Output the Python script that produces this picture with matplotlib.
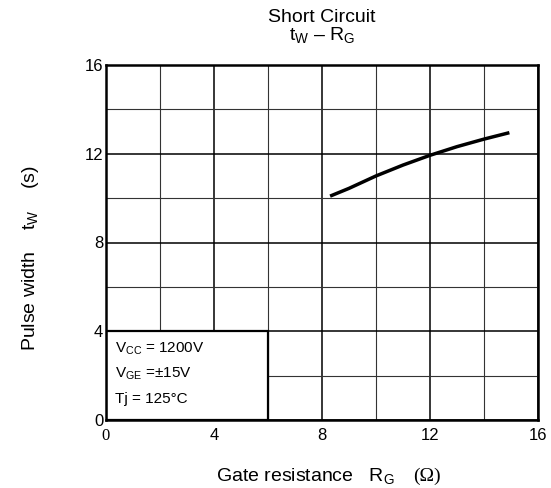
import matplotlib
matplotlib.use("Agg")
import matplotlib.pyplot as plt
from matplotlib.patches import Rectangle

plt.rcParams['font.family'] = ['Liberation Sans', 'DejaVu Sans']
plt.rcParams['mathtext.fontset'] = 'custom'
plt.rcParams['mathtext.rm'] = 'Liberation Sans'
plt.rcParams['mathtext.it'] = 'Liberation Sans'

# Data
rg = [8.3, 9.0, 10.0, 11.0, 12.0, 13.0, 14.0, 14.94]
tw = [10.09, 10.44, 11.0, 11.49, 11.93, 12.32, 12.66, 12.95]

x_major = [0, 4, 8, 12, 16]
y_major = [0, 4, 8, 12, 16]
x_minor = [2, 6, 10, 14]
y_minor = [2, 6, 10, 14]
x_labels = ["0", "4", "8", "12", "16"]
y_labels = ["0", "4", "8", "12", "16"]

cond_lines = ["$\\mathrm{V_{CC}}$ = 1200V", "$\\mathrm{V_{GE}}$ =\u00b115V", "Tj = 125\u00b0C"]

W, H = 551, 488
fig = plt.figure(figsize=(W / 100, H / 100), dpi=100)
ax = fig.add_axes([106 / W, 1 - 420 / H, (538 - 106) / W, (420 - 65) / H])
ax.set_xlim(0, 16)
ax.set_ylim(0, 16)

ax.set_xticks(x_major)
ax.set_yticks(y_major)
ax.set_xticks(x_minor, minor=True)
ax.set_yticks(y_minor, minor=True)
ax.set_xticklabels(x_labels, fontsize=12)
ax.set_yticklabels(y_labels, fontsize=12)
ax.tick_params(which='both', length=0)
ax.tick_params(axis='x', pad=6)
ax.tick_params(axis='y', pad=2)
ax.get_xticklabels()[0].set_family('Liberation Serif')

ax.set_axisbelow(True)
ax.grid(which='major', color='black', lw=1.1)
ax.grid(which='minor', color='#333333', lw=0.8)

for s in ax.spines.values():
    s.set_linewidth(1.8)
    s.set_zorder(5)

# condition box
box = Rectangle((0, 0), 6, 4, facecolor='white', edgecolor='black', lw=1.6, zorder=3)
ax.add_patch(box)
for i, t in enumerate(cond_lines):
    ax.text(0.33, 3.2 - i * 1.12, t, fontsize=11, va='center', ha='left', zorder=4)

ax.plot(rg, tw, color='black', lw=2.5, solid_capstyle='butt', zorder=4)

# title (two lines in one text)
cx = (106 + 538) / 2 / W
fig.text(cx, 1 - 9 / H, "Short Circuit\n$\\mathrm{t_W}$ \u2013 $\\mathrm{R_G}$", ha='center',
         va='top', multialignment='center', fontsize=14, linespacing=0.95)

# axis labels
fig.text(31 / W, 1 - 258 / H, "Pulse width    $\\mathrm{t_W}$    (s)", rotation=90,
         ha='center', va='center', fontsize=14)
fig.text(395 / W, 1 - 481 / H, "Gate resistance   $\\mathrm{R_G}$", ha='right', va='baseline',
         fontsize=14)
fig.text(413 / W, 1 - 481 / H, "(\u03a9)", ha='left', va='baseline', fontsize=14,
         family='Liberation Serif')

fig.savefig("out.png", dpi=100)
